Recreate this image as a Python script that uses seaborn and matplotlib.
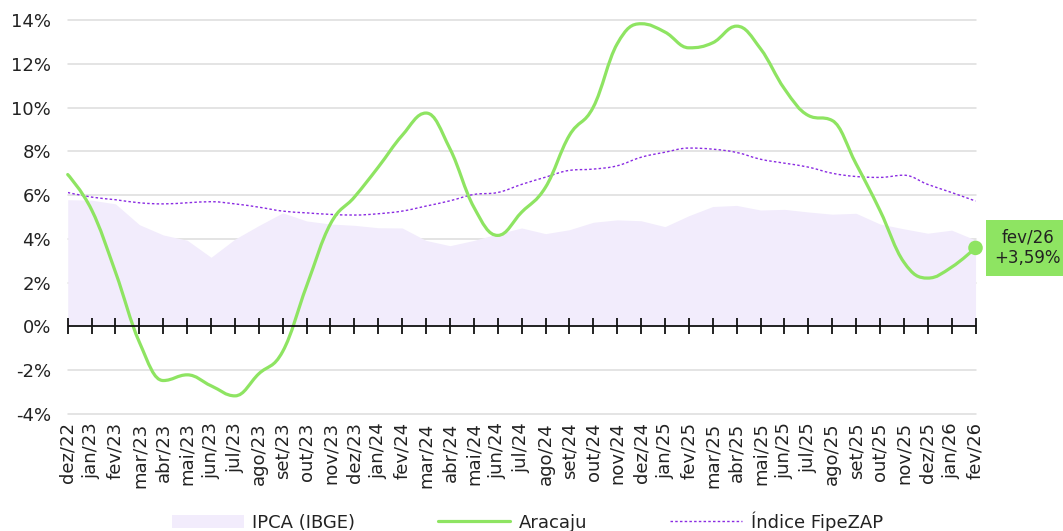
import numpy as np
import matplotlib
matplotlib.use("Agg")
import matplotlib.pyplot as plt
import seaborn as sns
from matplotlib.path import Path
from matplotlib.patches import PathPatch, Patch
from matplotlib.lines import Line2D

# Monthly 12-month variation (%)
months = [
    "dez/22", "jan/23", "fev/23", "mar/23", "abr/23", "mai/23", "jun/23", "jul/23",
    "ago/23", "set/23", "out/23", "nov/23", "dez/23", "jan/24", "fev/24", "mar/24",
    "abr/24", "mai/24", "jun/24", "jul/24", "ago/24", "set/24", "out/24", "nov/24",
    "dez/24", "jan/25", "fev/25", "mar/25", "abr/25", "mai/25", "jun/25", "jul/25",
    "ago/25", "set/25", "out/25", "nov/25", "dez/25", "jan/26", "fev/26",
]

ipca = [
    5.79, 5.77, 5.60, 4.65, 4.18, 3.94, 3.16, 3.99, 4.61, 5.19, 4.82, 4.68, 4.62,
    4.51, 4.50, 3.93, 3.69, 3.93, 4.23, 4.50, 4.24, 4.42, 4.76, 4.87, 4.83, 4.56,
    5.06, 5.48, 5.53, 5.32, 5.35, 5.23, 5.13, 5.17, 4.68, 4.46, 4.26, 4.40, 3.95,
]

aracaju = [
    6.94, 5.33, 2.48, -0.72, -2.47, -2.21, -2.71, -3.17, -2.16, -1.14, 1.85, 4.69,
    5.91, 7.28, 8.73, 9.75, 8.12, 5.45, 4.16, 5.22, 6.36, 8.73, 10.02, 12.91,
    13.83, 13.45, 12.73, 12.96, 13.72, 12.69, 10.86, 9.64, 9.41, 7.43, 5.30, 2.94,
    2.21, 2.71, 3.59,
]

fipezap = [
    6.12, 5.91, 5.79, 5.65, 5.60, 5.65, 5.70, 5.60, 5.45, 5.27, 5.19, 5.12, 5.09,
    5.15, 5.27, 5.50, 5.74, 6.03, 6.12, 6.49, 6.82, 7.13, 7.19, 7.34, 7.73, 7.96,
    8.15, 8.10, 7.95, 7.64, 7.46, 7.28, 7.00, 6.85, 6.81, 6.91, 6.49, 6.12, 5.73,
]

y_ticks = list(range(-4, 15, 2))

GREEN = "#8ee462"
PURPLE = "#8a2be2"
LAVENDER = "#f2ecfc"
TEXT = "#222222"
FS = 13


def spline_path(xs, ys, smoothing=1.5):
    """Smooth cubic Bezier path through every point, without overshoot."""
    n = len(xs)
    denom = smoothing + 1
    left = [None] * n
    right = [None] * n
    for i in range(1, n - 1):
        px, py = xs[i], ys[i]
        lx, ly = xs[i - 1], ys[i - 1]
        nx, ny = xs[i + 1], ys[i + 1]
        lcx = (smoothing * px + lx) / denom
        lcy = (smoothing * py + ly) / denom
        rcx = (smoothing * px + nx) / denom
        rcy = (smoothing * py + ny) / denom
        if rcx != lcx:
            corr = ((rcy - lcy) * (rcx - px)) / (rcx - lcx) + py - rcy
            lcy += corr
            rcy += corr
        if lcy > ly and lcy > py:
            lcy = max(ly, py)
            rcy = 2 * py - lcy
        elif lcy < ly and lcy < py:
            lcy = min(ly, py)
            rcy = 2 * py - lcy
        if rcy > ny and rcy > py:
            rcy = max(ny, py)
            lcy = 2 * py - rcy
        elif rcy < ny and rcy < py:
            rcy = min(ny, py)
            lcy = 2 * py - rcy
        left[i] = (lcx, lcy)
        right[i] = (rcx, rcy)
    verts = [(xs[0], ys[0])]
    codes = [Path.MOVETO]
    for i in range(1, n):
        c1 = right[i - 1] if right[i - 1] is not None else (xs[i - 1], ys[i - 1])
        c2 = left[i] if left[i] is not None else (xs[i], ys[i])
        verts += [c1, c2, (xs[i], ys[i])]
        codes += [Path.CURVE4] * 3
    return Path(verts, codes)


sns.set_theme(style="white")
plt.rcParams["font.family"] = ["DejaVu Sans"]

fig = plt.figure(figsize=(10.63, 5.31), dpi=100)
ax = fig.add_axes([0.0637, 0.2203, 0.9177 - 0.0637, 0.9623 - 0.2203])

x = np.arange(len(months))
ax.set_xlim(0, len(months) - 1)
ax.set_ylim(-4, 14)

# horizontal grid
ax.set_yticks(y_ticks)
ax.set_yticklabels([f"{v}%" for v in y_ticks])
ax.grid(axis="y", color="#dcdcdc", lw=1.1)
ax.grid(axis="x", visible=False)
for gl in ax.get_ygridlines():
    gl.set_clip_on(False)
ax.set_axisbelow(True)
for s in ax.spines.values():
    s.set_visible(False)

# IPCA area
ax.fill_between(x, 0, ipca, color=LAVENDER, lw=0, zorder=1)

# FipeZAP index (dotted) and Aracaju (solid) smooth lines
ax.add_patch(PathPatch(spline_path(x, fipezap), fill=False, edgecolor=PURPLE,
                       lw=1.0, linestyle=(0, (1.8, 1.6)), zorder=3))
ax.add_patch(PathPatch(spline_path(x, aracaju), fill=False, edgecolor=GREEN,
                       lw=2.3, capstyle="round", joinstyle="round", zorder=4,
                       clip_on=False))

# zero baseline with month ticks
ax.axhline(0, color="#111111", lw=1.3, zorder=5)
ax.plot(x, np.zeros(len(x)), ls="none", marker="|", ms=11, mew=1.3,
        color="#111111", zorder=5, clip_on=False)

# last value marker and label
sns.scatterplot(x=[x[-1]], y=[aracaju[-1]], ax=ax, s=110, color=GREEN,
                edgecolor="none", zorder=6, clip_on=False, legend=False)
label = f"{months[-1]}\n+{aracaju[-1]:.2f}%".replace(".", ",")
ax.annotate(label, xy=(x[-1], aracaju[-1]), xytext=(52, 0),
            textcoords="offset pixels", ha="center", va="center",
            fontsize=12, color=TEXT, linespacing=1.2, annotation_clip=False,
            bbox=dict(boxstyle="square,pad=0.5", fc=GREEN, ec="none"), zorder=7)

ax.set_xticks(x)
ax.set_xticklabels(months, rotation=90, fontsize=FS, color=TEXT)
ax.tick_params(axis="x", length=0, pad=6)
ax.tick_params(axis="y", length=0, pad=12, labelsize=FS, labelcolor=TEXT)

handles = [
    Patch(facecolor=LAVENDER, edgecolor="none"),
    Line2D([], [], color=GREEN, lw=2.3),
    Line2D([], [], color=PURPLE, lw=1.0, linestyle=(0, (1.8, 1.6))),
]
fig.legend(handles, ["IPCA (IBGE)", "Aracaju", "Índice FipeZAP"],
           loc="center", bbox_to_anchor=(0.496, 0.018), ncol=3, frameon=False,
           fontsize=FS, handlelength=4.0, handletextpad=0.45, columnspacing=4.6,
           labelcolor=TEXT)

fig.savefig("out.png", dpi=100)
